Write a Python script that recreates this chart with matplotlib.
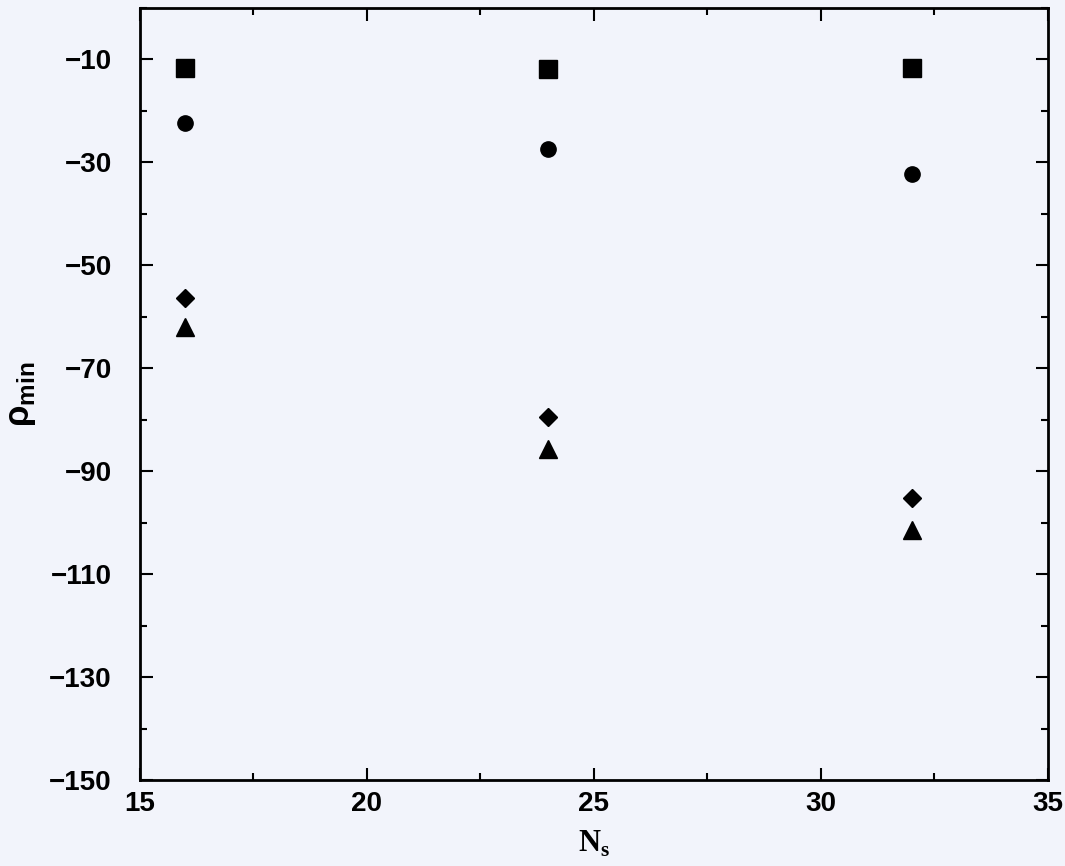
import numpy as np
import matplotlib
matplotlib.use('Agg')
import matplotlib.pyplot as plt
from matplotlib.ticker import MultipleLocator

# data
Ns = [16, 24, 32]
rho_square = [-11.7, -11.9, -11.7]
rho_circle = [-22.4, -27.5, -32.2]
rho_diamond = [-56.3, -79.4, -95.2]
rho_triangle = [-62.0, -85.6, -101.4]

yticks = [-150, -130, -110, -90, -70, -50, -30, -10]
xticks = [15, 20, 25, 30, 35]

bg = '#f2f4fb'
fig = plt.figure(figsize=(10.65, 8.66), dpi=100, facecolor=bg)
ax = fig.add_axes([0.131, 0.099, 0.853, 0.892], facecolor=bg)

ax.plot(Ns, rho_square, 's', color='black', markersize=12.5, linestyle='none')
ax.plot(Ns, rho_circle, 'o', color='black', markersize=11, linestyle='none')
ax.plot(Ns, rho_diamond, 'D', color='black', markersize=9, linestyle='none')
ax.plot(Ns, rho_triangle, '^', color='black', markersize=13, linestyle='none')

ax.set_xlim(15, 35)
ax.set_ylim(-150, 0)
ax.set_xticks(xticks)
ax.set_yticks(yticks)
ax.xaxis.set_minor_locator(MultipleLocator(2.5))
ax.yaxis.set_minor_locator(MultipleLocator(10))
ax.set_yticklabels([str(v).replace('-', '\u2212') for v in yticks])

ax.tick_params(which='both', direction='in', top=True, right=True, width=1.5, color='black')
ax.tick_params(which='major', length=9)
ax.tick_params(which='minor', length=5)
ax.tick_params(axis='y', pad=20)
ax.tick_params(axis='x', pad=8)
for lab in ax.get_xticklabels() + ax.get_yticklabels():
    lab.set_fontname('Liberation Sans')
    lab.set_fontweight('bold')
    lab.set_fontsize(20)

for sp in ax.spines.values():
    sp.set_linewidth(2)
    sp.set_color('black')

ax.set_xlabel(r'N$_\mathregular{s}$', fontsize=22, fontname='Liberation Serif', fontweight='bold', labelpad=8)
ax.set_ylabel('\u03c1$_\\mathregular{min}$', fontsize=25, fontname='Liberation Sans', fontweight='bold', labelpad=8)

fig.savefig('out.png', dpi=100, facecolor=bg)
